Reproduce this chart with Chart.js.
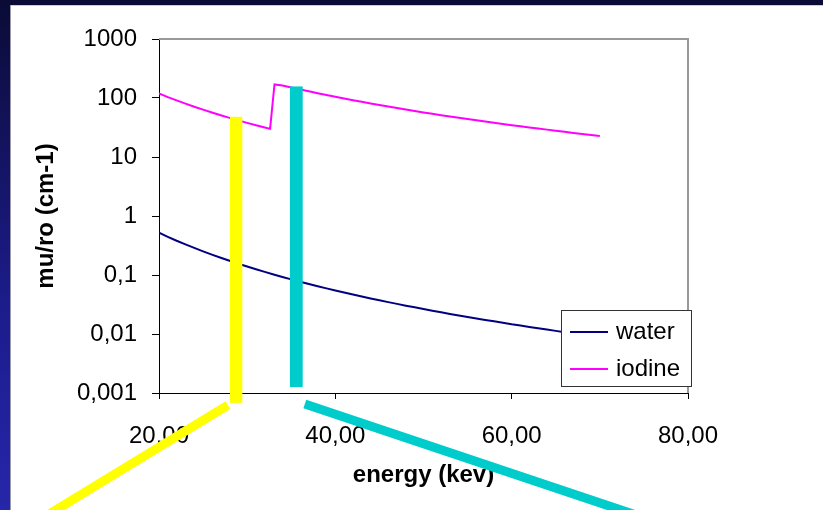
<!DOCTYPE html>
<html>
<head>
<meta charset="utf-8">
<script src="https://cdn.jsdelivr.net/npm/chart.js@4.4.0/dist/chart.umd.min.js"></script>
<style>
  html, body { margin: 0; padding: 0; background: #fff; }
  #frame { position: relative; width: 823px; height: 510px; background: #fff; overflow: hidden; }
  #topband { position: absolute; left: 0; top: 0; width: 823px; height: 5px; background: #0b0b36; }
  #leftband { position: absolute; left: 0; top: 0; width: 10px; height: 510px; background: linear-gradient(#0b0b36, #1c1c8c 60%, #2626aa); }
  #topline { position: absolute; left: 10px; top: 5px; width: 813px; height: 1px; background: #c9d2c4; }
  #leftline { position: absolute; left: 10px; top: 5px; width: 1px; height: 505px; background: #9a9aa8; }
  #c { position: absolute; left: 0; top: 0; }
</style>
</head>
<body>
<div id="frame">
  <div id="topband"></div>
  <div id="leftband"></div>
  <div id="topline"></div>
  <div id="leftline"></div>
  <canvas id="c" width="823" height="510"></canvas>
</div>
<script>
// ---- data ----
const waterEnergy = [20,21,22,23,24,25,26,27,28,29,30,31,32,33,34,35,36,37,38,39,40,41,42,43,44,45,46,47,48,49,50,51,52,53,54,55,56,57,58,59,60,61,62,63,64,65,66,67,68,69,70];
const waterMu = [0.52,0.444,0.381,0.330,0.288,0.252,0.222,0.196,0.174,0.155,0.139,0.125,0.113,0.102,0.0927,0.0843,0.0770,0.0704,0.0646,0.0593,0.0547,0.0505,0.0466,0.0432,0.0401,0.0373,0.0347,0.0324,0.0302,0.0283,0.0265,0.0248,0.0233,0.0219,0.0206,0.0194,0.0183,0.0173,0.0164,0.0155,0.0146,0.0139,0.0132,0.0125,0.0119,0.0113,0.0107,0.0102,0.0097,0.0093,0.0089];

const iodineEnergy = [20,21,22,23,24,25,26,27,28,29,30,31,32,32.6,33.1,34,35,36,37,38,39,40,41,42,43,44,45,46,47,48,49,50,51,52,53,54,55,56,57,58,59,60,61,62,63,64,65,66,67,68,69,70];
const iodineMu = [119,103.7,91.0,80.2,71.2,63.4,56.8,51.1,46.1,41.7,37.9,34.6,31.6,30.0,170,163.4,151,139.8,129.7,120.6,112.3,104.8,98.0,91.8,86.1,80.8,76.0,71.6,67.5,63.7,60.2,57.0,54.0,51.2,48.6,46.2,44.0,41.8,39.9,38.0,36.3,34.6,33.1,31.7,30.3,29.1,27.9,26.7,25.6,24.6,23.7,22.8];

const seriesNames = ["water", "iodine"];
const xTickValues = [20, 40, 60, 80];
const xTickLabels = ["20,00", "40,00", "60,00", "80,00"];
const yTickValues = [0.001, 0.01, 0.1, 1, 10, 100, 1000];
const yTickLabels = ["0,001", "0,01", "0,1", "1", "10", "100", "1000"];

// highlight markers (in data units: energy, mu/ro)
const markerBars = [
  { e0: 28.05, e1: 29.45, v0: 0.00068, v1: 48, color: "#ffff00" },
  { e0: 34.85, e1: 36.30, v0: 0.00126, v1: 157, color: "#00cccc" }
];
const markerLines = [
  { e0: 27.82, v0: 0.000625, e1: 4.5, v1: 0.0000047, color: "#ffff00" },
  { e0: 36.54, v0: 0.00065, e1: 79.3, v1: 0.0000047, color: "#00cccc" }
];

const FONT = "'Liberation Sans', Arial, sans-serif";
const COLORS = ["#000080", "#ff00ff"];

const toPoints = (xs, ys) => xs.map((x, i) => ({ x: x, y: ys[i] }));

const framePlugin = {
  id: "frameLines",
  beforeDatasetsDraw(chart) {
    const { ctx, chartArea: a } = chart;
    ctx.save();
    ctx.strokeStyle = "#999999";
    ctx.lineWidth = 2;
    ctx.beginPath();
    ctx.moveTo(a.left, a.top);
    ctx.lineTo(a.right, a.top);
    ctx.lineTo(a.right, a.bottom);
    ctx.stroke();
    ctx.restore();
  },
  afterDatasetsDraw(chart) {
    // legend box inside plot
    const { ctx, chartArea: a } = chart;
    const bx = a.right - 127, by = a.bottom - 83, bw = 130, bh = 76;
    ctx.save();
    ctx.fillStyle = "#ffffff";
    ctx.fillRect(bx, by, bw, bh);
    ctx.strokeStyle = "#333333";
    ctx.lineWidth = 1;
    ctx.strokeRect(bx + 0.5, by + 0.5, bw, bh);
    ctx.font = "24px " + FONT;
    ctx.textBaseline = "middle";
    ctx.fillStyle = "#000";
    chart.data.datasets.forEach((ds, i) => {
      const yy = by + 22 + i * 37;
      ctx.strokeStyle = ds.borderColor;
      ctx.lineWidth = 2;
      ctx.beginPath();
      ctx.moveTo(bx + 9, yy);
      ctx.lineTo(bx + 47, yy);
      ctx.stroke();
      ctx.fillText(ds.label, bx + 55, yy);
    });
    ctx.restore();
  },
  afterDraw(chart) {
    const { ctx } = chart;
    const xs = chart.scales.x, ys = chart.scales.y;
    ctx.save();
    markerBars.forEach(m => {
      const x0 = xs.getPixelForValue(m.e0), x1 = xs.getPixelForValue(m.e1);
      const y0 = ys.getPixelForValue(m.v0), y1 = ys.getPixelForValue(m.v1);
      ctx.fillStyle = m.color;
      ctx.fillRect(x0, y1, x1 - x0, y0 - y1);
    });
    markerLines.forEach(m => {
      ctx.strokeStyle = m.color;
      ctx.lineWidth = 9;
      ctx.lineCap = "butt";
      ctx.beginPath();
      ctx.moveTo(xs.getPixelForValue(m.e0), ys.getPixelForValue(m.v0));
      ctx.lineTo(xs.getPixelForValue(m.e1), ys.getPixelForValue(m.v1));
      ctx.stroke();
    });
    ctx.restore();
  }
};

new Chart(document.getElementById("c"), {
  type: "line",
  data: {
    datasets: [
      { label: seriesNames[0], data: toPoints(waterEnergy, waterMu), borderColor: COLORS[0], borderWidth: 2, pointRadius: 0, tension: 0, fill: false },
      { label: seriesNames[1], data: toPoints(iodineEnergy, iodineMu), borderColor: COLORS[1], borderWidth: 2, pointRadius: 0, tension: 0, fill: false }
    ]
  },
  options: {
    responsive: false,
    animation: false,
    devicePixelRatio: 1,
    layout: { padding: { left: 0, top: 39, right: 135, bottom: 0 } },
    plugins: { legend: { display: false }, tooltip: { enabled: false } },
    scales: {
      x: {
        type: "linear",
        min: 20, max: 80,
        afterBuildTicks: s => { s.ticks = xTickValues.map(v => ({ value: v })); },
        afterFit: s => { s.height = 117; },
        ticks: {
          font: { size: 24, family: FONT }, color: "#000", padding: 23, maxRotation: 0, autoSkip: false,
          callback: (v, i) => xTickLabels[i]
        },
        grid: { drawOnChartArea: false, drawTicks: true, tickLength: 6, color: "#000", tickWidth: 1 },
        border: { display: true, color: "#000", width: 1 },
        title: { display: true, text: "energy (kev)", color: "#000", font: { size: 24, weight: "bold", family: FONT }, padding: { top: 0, bottom: 20 } }
      },
      y: {
        type: "logarithmic",
        min: 0.001, max: 1000,
        afterBuildTicks: s => { s.ticks = yTickValues.map(v => ({ value: v })); },
        afterFit: s => { s.width = 159; },
        ticks: {
          font: { size: 24, family: FONT }, color: "#000", padding: 15, autoSkip: false,
          callback: (v, i) => yTickLabels[i]
        },
        grid: { drawOnChartArea: false, drawTicks: true, tickLength: 7, color: "#000", tickWidth: 1 },
        border: { display: true, color: "#000", width: 1 },
        title: { display: true, text: "mu/ro (cm-1)", color: "#000", font: { size: 24, weight: "bold", family: FONT }, padding: { top: 32, bottom: 0 } }
      }
    }
  },
  plugins: [framePlugin]
});
</script>
</body>
</html>
